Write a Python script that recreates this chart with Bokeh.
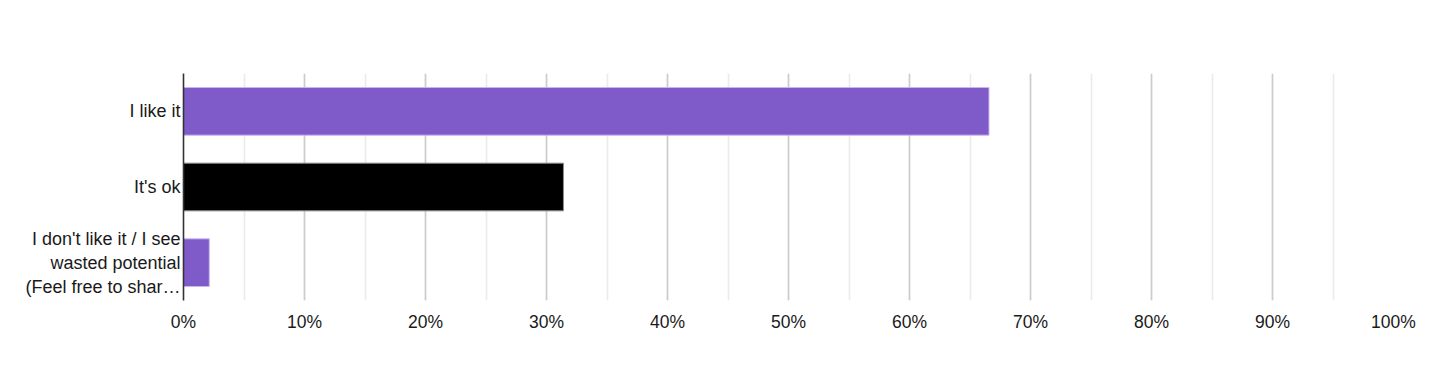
from bokeh.plotting import figure
from bokeh.models import ColumnDataSource, FactorRange, SingleIntervalTicker, NumeralTickFormatter
from bokeh.embed import file_html
from bokeh.resources import INLINE

categories = ["I like it", "It's ok", "I don't like it / I see\nwasted potential\n(Feel free to shar\u2026"]
values = [0.6657, 0.314, 0.0213]
bar_colors = ["#7f5ac9", "#000000", "#7f5ac9"]
bar_lines = ["#c9b6ee", "#8a8a8a", "#c9b6ee"]

FONT = "Liberation Sans"

src = ColumnDataSource(dict(cat=categories, val=values, fill=bar_colors, line=bar_lines))

p = figure(width=1424, height=356, output_backend="svg", toolbar_location=None,
           y_range=FactorRange(*reversed(categories)), x_range=(0, 1),
           min_border_left=183, min_border_right=31, min_border_top=73, min_border_bottom=56)

p.hbar(y="cat", right="val", left=0, height=0.63, source=src,
       fill_color="fill", line_color="line", line_width=1)

p.outline_line_color = None
p.background_fill_color = "white"
p.border_fill_color = "white"

p.xaxis.ticker = SingleIntervalTicker(interval=0.1, num_minor_ticks=2)
p.xaxis.formatter = NumeralTickFormatter(format="0%")
p.xaxis.axis_line_color = None
p.xaxis.major_tick_line_color = None
p.xaxis.minor_tick_line_color = None
p.xaxis.major_tick_out = 0
p.xaxis.major_label_standoff = 7
p.xaxis.major_label_text_font = FONT
p.xaxis.major_label_text_font_size = "17.5px"
p.xaxis.major_label_text_color = "#1a1a1a"

p.xgrid.grid_line_color = "#cccccc"
p.xgrid.grid_line_width = 1.6
p.xgrid.minor_grid_line_color = "#ebebeb"
p.xgrid.minor_grid_line_width = 1.6
p.ygrid.grid_line_color = None

p.yaxis.axis_line_color = "#333333"
p.yaxis.axis_line_width = 1.6
p.yaxis.major_tick_line_color = None
p.yaxis.minor_tick_line_color = None
p.yaxis.major_tick_out = 0
p.yaxis.major_label_standoff = 3
p.yaxis.major_label_text_font = FONT
p.yaxis.major_label_text_font_size = "18px"
p.yaxis.major_label_text_color = "#1a1a1a"
p.yaxis.major_label_text_line_height = 1.2

open("out.html", "w").write(file_html(p, INLINE))
